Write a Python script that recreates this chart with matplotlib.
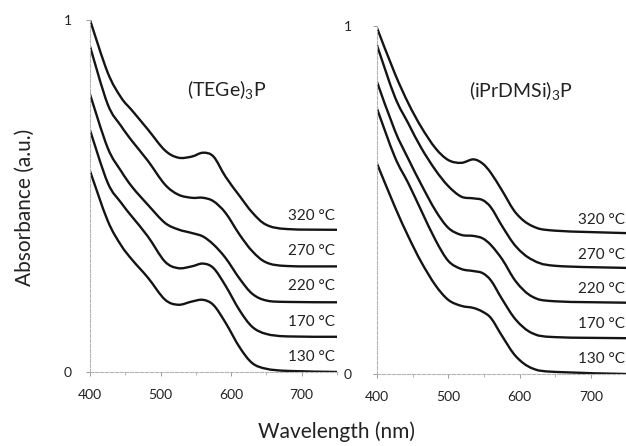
import numpy as np
import matplotlib
matplotlib.use("Agg")
import matplotlib.pyplot as plt
from matplotlib.path import Path
from matplotlib.patches import PathPatch

plt.rcParams['font.family'] = ['Lato', 'DejaVu Sans']
plt.rcParams['mathtext.fontset'] = 'custom'
plt.rcParams['mathtext.rm'] = 'Lato'
plt.rcParams['mathtext.it'] = 'Lato:italic'
plt.rcParams['mathtext.bf'] = 'Lato:bold'

# -------------------------------------------------------------------
# Spectra (offset-stacked absorbance, a.u.)
# -------------------------------------------------------------------
temps = ["320 °C", "270 °C", "220 °C", "170 °C", "130 °C"]
offsets = [0.4, 0.3, 0.2, 0.1, 0.0]

# (TEGe)3P
wl_tege = [400, 425, 444, 460, 482, 506, 525, 544, 560, 575, 592, 612, 630, 650, 680, 750]
tege_320 = [1.000, 0.851, 0.780, 0.742, 0.689, 0.630, 0.609, 0.612, 0.623, 0.612, 0.555, 0.500, 0.453, 0.418, 0.406, 0.404]
tege_270 = [0.925, 0.761, 0.699, 0.655, 0.600, 0.533, 0.504, 0.495, 0.495, 0.485, 0.452, 0.390, 0.343, 0.311, 0.301, 0.300]
tege_220 = [0.789, 0.637, 0.571, 0.525, 0.475, 0.424, 0.405, 0.395, 0.385, 0.362, 0.324, 0.265, 0.222, 0.203, 0.199, 0.198]
tege_170 = [0.687, 0.538, 0.481, 0.440, 0.385, 0.314, 0.295, 0.300, 0.308, 0.295, 0.245, 0.175, 0.128, 0.108, 0.101, 0.100]
tege_130 = [0.571, 0.430, 0.360, 0.318, 0.268, 0.206, 0.191, 0.200, 0.205, 0.190, 0.140, 0.070, 0.025, 0.009, 0.003, 0.000]

# (iPrDMSi)3P
wl_ipr = [400, 425, 444, 462, 482, 500, 518, 535, 548, 560, 576, 595, 618, 650, 750]
ipr_320 = [0.995, 0.864, 0.778, 0.710, 0.649, 0.615, 0.607, 0.617, 0.605, 0.577, 0.525, 0.462, 0.425, 0.412, 0.405]
ipr_270 = [0.945, 0.797, 0.720, 0.650, 0.586, 0.540, 0.510, 0.505, 0.500, 0.478, 0.423, 0.366, 0.328, 0.311, 0.305]
ipr_220 = [0.840, 0.700, 0.618, 0.545, 0.470, 0.420, 0.400, 0.397, 0.390, 0.370, 0.328, 0.265, 0.222, 0.209, 0.205]
ipr_170 = [0.763, 0.624, 0.548, 0.470, 0.385, 0.325, 0.302, 0.296, 0.290, 0.268, 0.213, 0.155, 0.117, 0.106, 0.103]
ipr_130 = [0.605, 0.481, 0.395, 0.322, 0.255, 0.213, 0.196, 0.190, 0.179, 0.160, 0.107, 0.050, 0.016, 0.006, 0.000]


def smooth_path(x, y):
    # Catmull-Rom through the points, written as cubic Bezier segments
    pts = np.column_stack([x, y]).astype(float)
    ext = np.vstack([pts[0], pts, pts[-1]])
    verts = [pts[0]]
    codes = [Path.MOVETO]
    for i in range(1, len(ext) - 2):
        p0, p1, p2, p3 = ext[i - 1], ext[i], ext[i + 1], ext[i + 2]
        verts += [p1 + (p2 - p0) / 6.0, p2 - (p3 - p1) / 6.0, p2]
        codes += [Path.CURVE4] * 3
    return Path(verts, codes)


def draw_panel(ax, wl, curves, title, title_xy, ypad):
    for ys in curves:
        ax.add_patch(PathPatch(smooth_path(wl, ys), fill=False,
                               edgecolor="#141414", lw=1.7, capstyle="round"))
    for t, off in zip(temps, offsets):
        ax.text(747, off + 0.043, t, ha="right", va="center", fontsize=11, color="#222222")
    ax.text(title_xy[0], title_xy[1], title, ha="center", va="center", fontsize=14, color="#222222")

    ax.set_xlim(400, 750)
    ax.set_ylim(0, 1)
    ax.set_xticks([400, 500, 600, 700])
    ax.set_xticks([450, 550, 650, 750], minor=True)
    ax.set_yticks([0, 1])
    ax.set_yticklabels(["0", "1"])
    for s in ["top", "right"]:
        ax.spines[s].set_visible(False)
    for s in ["left", "bottom"]:
        ax.spines[s].set_color("#b5b5b5")
        ax.spines[s].set_linewidth(0.8)
        ax.spines[s].set_linestyle((0, (3, 1.5)))
    ax.tick_params(axis="x", which="major", length=3, width=0.7, color="#999999",
                   labelsize=10, pad=9, labelcolor="#222222")
    ax.tick_params(axis="x", which="minor", length=2, width=0.6, color="#aaaaaa")
    ax.tick_params(axis="y", length=3, width=0.7, color="#999999",
                   labelsize=10, pad=ypad, labelcolor="#222222")
    ax.patch.set_alpha(0)


fig = plt.figure(figsize=(6.26, 4.46), dpi=100)
ax1 = fig.add_axes([0.1438, 0.166, 0.3946, 0.789])
ax2 = fig.add_axes([0.6022, 0.1614, 0.399, 0.780])

draw_panel(ax1, wl_tege, [tege_320, tege_270, tege_220, tege_170, tege_130],
           "(TEGe)$_3$P", (594, 0.803), 10)
draw_panel(ax2, wl_ipr, [ipr_320, ipr_270, ipr_220, ipr_170, ipr_130],
           "(iPrDMSi)$_3$P", (602, 0.816), 15)

fig.text(0.04, 0.534, "Absorbance (a.u.)", rotation=90, ha="center", va="center",
         fontsize=15, color="#222222")
fig.text(0.537, 0.031, "Wavelength (nm)", ha="center", va="center",
         fontsize=15, color="#222222")

fig.savefig("out.png", dpi=100)
